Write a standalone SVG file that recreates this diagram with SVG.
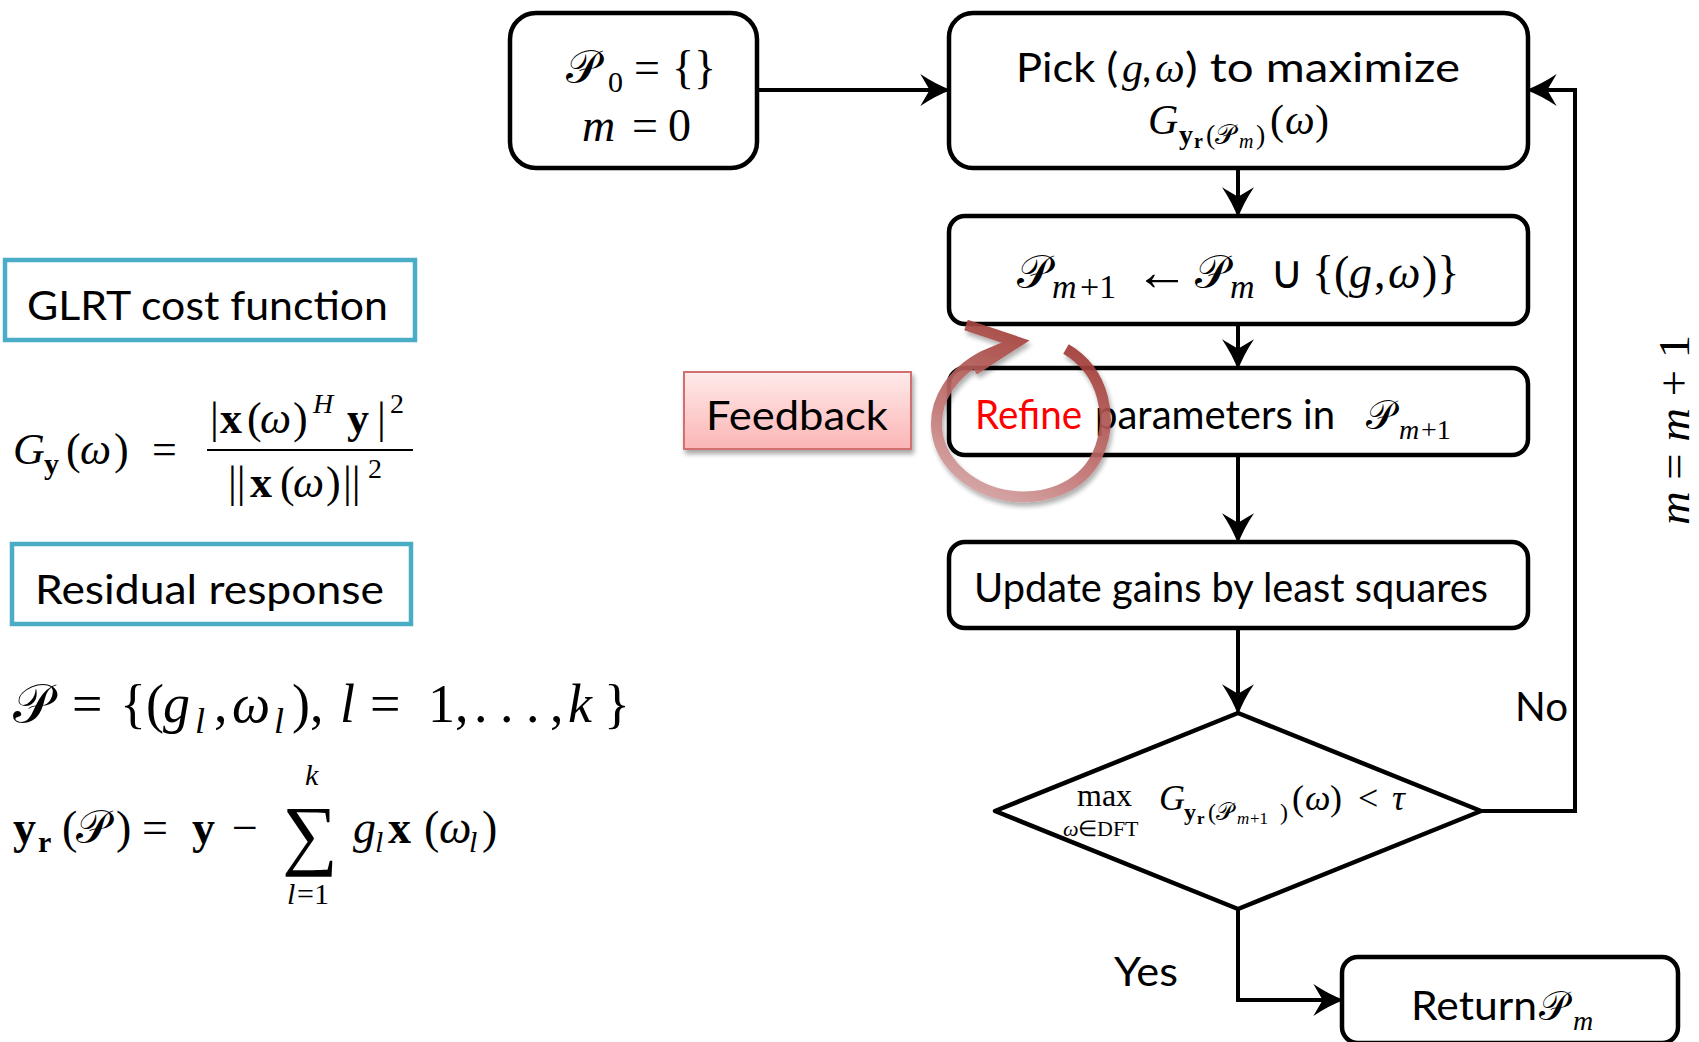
<svg xmlns="http://www.w3.org/2000/svg" width="1699" height="1042" viewBox="0 0 1699 1042">
<style>
.box{fill:#fff;stroke:#000;stroke-width:4.5}
.cyan{fill:#fff;stroke:#4bacc6;stroke-width:4.5}
.conn{fill:none;stroke:#000;stroke-width:4}
.t{font-family:Lato,"Liberation Sans",sans-serif;fill:#000;font-size:40px}
.m{font-family:"Liberation Serif",serif;font-style:italic;fill:#000}
.r{font-style:normal}
.b{font-style:normal;font-weight:bold}
.cal{font-family:"DejaVu Sans","DejaVu Serif","Noto Sans",serif;font-style:normal}
</style>
<defs>
<marker id="ah" markerUnits="userSpaceOnUse" markerWidth="40" markerHeight="40" viewBox="-20 -15 30 30" refX="0" refY="0" orient="auto">
<path d="M6,0 Q-5,-4 -17,-12 L-10,0 L-17,12 Q-5,4 6,0Z" fill="#000"/>
</marker>
<linearGradient id="fbg" x1="0" y1="0" x2="0" y2="1">
<stop offset="0" stop-color="#ffeaea"/>
<stop offset="1" stop-color="#fbb5b5"/>
</linearGradient>
<linearGradient id="cg" gradientUnits="userSpaceOnUse" x1="1040" y1="330" x2="960" y2="500">
<stop offset="0" stop-color="#a03a35"/>
<stop offset="0.6" stop-color="#c07472"/>
<stop offset="1" stop-color="#d6a8a8"/>
</linearGradient>
<filter id="sh" x="-20%" y="-20%" width="140%" height="150%">
<feDropShadow dx="2" dy="4" stdDeviation="2.5" flood-color="#000" flood-opacity="0.35"/>
</filter>
</defs>

<g id="connectors">
<path class="conn" d="M757,90 H943" marker-end="url(#ah)"/>
<path class="conn" d="M1238,168 V210" marker-end="url(#ah)"/>
<path class="conn" d="M1238,324 V362" marker-end="url(#ah)"/>
<path class="conn" d="M1238,455 V536" marker-end="url(#ah)"/>
<path class="conn" d="M1238,628 V707" marker-end="url(#ah)"/>
<path class="conn" d="M1481,811 H1575 V90 H1534" marker-end="url(#ah)"/>
<path class="conn" d="M1238,909 V1000 H1336" marker-end="url(#ah)"/>
</g>

<g id="init">
<rect class="box" x="510" y="13" width="247" height="155" rx="26"/>
<text class="m" font-size="46" y="83"><tspan class="cal" x="566">𝒫</tspan><tspan class="r" x="608" y="92" font-size="30">0</tspan><tspan class="r" x="634" y="83">=</tspan><tspan class="r" x="672">{}</tspan></text>
<text class="m" font-size="46" y="141"><tspan x="582">m</tspan><tspan class="r" x="632">=</tspan><tspan class="r" x="668">0</tspan></text>
</g>

<g id="pick">
<rect class="box" x="949" y="13" width="579" height="155" rx="24"/>
<text class="t" x="1016" y="82" textLength="102" lengthAdjust="spacingAndGlyphs">Pick (</text>
<text class="m" font-size="42" x="1122" y="82">g</text>
<text class="t" x="1142" y="82">,</text>
<text class="m" font-size="42" x="1155" y="82">ω</text>
<text class="t" x="1185" y="82" textLength="275" lengthAdjust="spacingAndGlyphs">) to maximize</text>
<text class="m" font-size="42" y="134"><tspan x="1148">G</tspan><tspan class="b" font-size="28" x="1179" y="144">y</tspan><tspan class="b" font-size="20" x="1194" y="148">r</tspan><tspan class="r" font-size="28" x="1206" y="144">(</tspan><tspan class="cal" font-size="28" x="1215" y="144">𝒫</tspan><tspan font-size="20" x="1239" y="148">m</tspan><tspan class="r" font-size="28" x="1256" y="144">)</tspan><tspan class="r" x="1270" y="134">(</tspan><tspan x="1285">ω</tspan><tspan class="r" x="1315">)</tspan></text>
</g>

<g id="add">
<rect class="box" x="949" y="216" width="579" height="108" rx="16"/>
<text class="m" font-size="46" y="288"><tspan class="cal" x="1017">𝒫</tspan><tspan font-size="34" x="1052" y="298">m</tspan><tspan class="r" font-size="34" x="1080" y="298">+1</tspan><tspan class="r" font-size="54" x="1135" y="290">←</tspan><tspan class="cal" x="1195" y="288">𝒫</tspan><tspan font-size="34" x="1230" y="298">m</tspan><tspan class="r" x="1270" y="288">∪</tspan><tspan class="r" x="1312">{(</tspan><tspan x="1349">g</tspan><tspan class="r" x="1374">,</tspan><tspan x="1388">ω</tspan><tspan class="r" x="1422">)}</tspan></text>
</g>

<g id="refine">
<rect class="box" x="949" y="368" width="579" height="87" rx="16"/>
<text class="t" x="975" y="429" style="fill:#ff0000" textLength="107" lengthAdjust="spacingAndGlyphs">Refine</text>
<text class="t" x="1095" y="429" textLength="240" lengthAdjust="spacingAndGlyphs">parameters in</text>
<text class="m" font-size="40" y="429"><tspan class="cal" x="1366">𝒫</tspan><tspan font-size="28" x="1399" y="439">m</tspan><tspan class="r" font-size="28" x="1421" y="439">+1</tspan></text>
</g>

<g id="update">
<rect class="box" x="949" y="542" width="579" height="86" rx="16"/>
<text class="t" x="974" y="602" textLength="514" lengthAdjust="spacingAndGlyphs">Update gains by least squares</text>
</g>

<g id="decision">
<polygon class="box" stroke-linejoin="round" points="1238,713 1481,811 1238,909 995,811"/>
<text class="m r" font-size="32" x="1077" y="806">max</text>
<text class="m" font-size="22" y="836"><tspan x="1063">ω</tspan><tspan class="r" x="1078">∈DFT</tspan></text>
<text class="m" y="810"><tspan font-size="36" x="1159" y="810">G</tspan><tspan class="b" font-size="24" x="1184" y="820">y</tspan><tspan class="b" font-size="17" x="1197" y="824">r</tspan><tspan class="r" font-size="24" x="1208" y="820">(</tspan><tspan class="cal" font-size="24" x="1216" y="820">𝒫</tspan><tspan font-size="17" x="1237" y="824">m</tspan><tspan class="r" font-size="17" x="1250" y="824">+1</tspan><tspan class="r" font-size="24" x="1280" y="820">)</tspan><tspan class="r" font-size="36" x="1292" y="810">(</tspan><tspan font-size="36" x="1305">ω</tspan><tspan class="r" font-size="36" x="1330">)</tspan><tspan class="r" font-size="36" x="1358">&lt;</tspan><tspan font-size="36" x="1392">τ</tspan></text>
</g>

<g id="return">
<rect class="box" x="1342" y="957" width="336" height="86" rx="16"/>
<text class="t" x="1411" y="1020" textLength="126" lengthAdjust="spacingAndGlyphs">Return</text>
<text class="m" font-size="40" y="1020"><tspan class="cal" x="1539">𝒫</tspan><tspan font-size="28" x="1573" y="1030">m</tspan></text>
</g>

<g id="labels">
<text class="t" x="1515" y="721" textLength="53" lengthAdjust="spacingAndGlyphs">No</text>
<text class="t" x="1114" y="986" textLength="64" lengthAdjust="spacingAndGlyphs">Yes</text>
<text class="m" font-size="44" transform="translate(1689,525) rotate(-90)" textLength="190" lengthAdjust="spacingAndGlyphs">m <tspan class="r">=</tspan> m <tspan class="r">+ 1</tspan></text>
</g>

<g id="glrt">
<rect class="cyan" x="5" y="260" width="410" height="80"/>
<text class="t" x="27" y="320" textLength="361" lengthAdjust="spacingAndGlyphs">GLRT cost function</text>
</g>

<g id="glrt-formula">
<text class="m" font-size="44" y="464"><tspan x="13">G</tspan><tspan class="b" font-size="30" x="44" y="474">y</tspan><tspan class="r" x="66" y="464">(</tspan><tspan x="80">ω</tspan><tspan class="r" x="114">)</tspan><tspan class="r" x="152">=</tspan></text>
<text class="m" font-size="44" y="433"><tspan class="r" x="210">|</tspan><tspan class="b" x="220">x</tspan><tspan class="r" x="247">(</tspan><tspan x="260">ω</tspan><tspan class="r" x="293">)</tspan><tspan font-size="28" x="313" y="413">H</tspan><tspan class="b" x="347" y="433">y</tspan><tspan class="r" x="377">|</tspan><tspan class="r" font-size="28" x="390" y="413">2</tspan></text>
<line x1="207" y1="450" x2="413" y2="450" stroke="#000" stroke-width="2"/>
<text class="m" font-size="44" y="497"><tspan class="r" x="228">||</tspan><tspan class="b" x="250">x</tspan><tspan class="r" x="280">(</tspan><tspan x="293">ω</tspan><tspan class="r" x="326">)</tspan><tspan class="r" x="343">||</tspan><tspan class="r" font-size="28" x="368" y="478">2</tspan></text>
</g>

<g id="residual">
<rect class="cyan" x="12" y="544" width="399" height="80"/>
<text class="t" x="35" y="604" textLength="349" lengthAdjust="spacingAndGlyphs">Residual response</text>
</g>

<g id="residual-formula">
<text class="m" font-size="54" y="722"><tspan class="cal" x="13">𝒫</tspan><tspan class="r" x="72">=</tspan><tspan class="r" x="120">{(</tspan><tspan x="163">g</tspan><tspan font-size="36" x="195" y="733">l</tspan><tspan class="r" x="214" y="722">,</tspan><tspan x="232">ω</tspan><tspan font-size="36" x="274" y="733">l</tspan><tspan class="r" x="292" y="722">),</tspan><tspan x="340">l</tspan><tspan class="r" x="370">=</tspan><tspan class="r" x="428">1,</tspan><tspan class="r" x="474">.</tspan><tspan class="r" x="500">.</tspan><tspan class="r" x="526">.</tspan><tspan class="r" x="550">,</tspan><tspan x="568">k</tspan><tspan class="r" x="604">}</tspan></text>
<text class="m" font-size="46" y="843"><tspan class="b" x="13">y</tspan><tspan class="b" font-size="30" x="38" y="852">r</tspan><tspan class="r" x="62" y="843">(</tspan><tspan class="cal" x="76">𝒫</tspan><tspan class="r" x="116">)</tspan><tspan class="r" x="142">=</tspan><tspan class="b" x="192">y</tspan><tspan class="r" x="232">−</tspan><tspan x="353" y="843">g</tspan><tspan font-size="30" x="375" y="852">l</tspan><tspan class="b" x="388" y="843">x</tspan><tspan class="r" x="424">(</tspan><tspan x="439">ω</tspan><tspan font-size="30" x="469" y="852">l</tspan><tspan class="r" x="482" y="843">)</tspan></text>
<text class="m r" font-size="78" x="282" y="860">∑</text>
<text class="m" font-size="30" x="305" y="785">k</text>
<text class="m" font-size="30" y="904"><tspan x="287">l</tspan><tspan class="r" x="297">=1</tspan></text>
</g>

<g id="feedback">
<rect x="684" y="372" width="227" height="77" fill="url(#fbg)" stroke="#d07070" stroke-width="2" filter="url(#sh)"/>
<text class="t" x="706" y="430" textLength="182" lengthAdjust="spacingAndGlyphs">Feedback</text>
</g>

<g id="refine-arrow" filter="url(#sh)" fill="none" stroke="url(#cg)" stroke-width="11" opacity="0.92">
<path d="M1066,349 C1105,372 1114,420 1097,456 C1080,490 1042,500 1010,496 C974,491 942,466 937,432 C933,400 953,372 984,356 L1012,344"/>
<path d="M966,325 L1017,342 L974,370" stroke-linejoin="miter" stroke-linecap="butt"/>
</g>
</svg>
